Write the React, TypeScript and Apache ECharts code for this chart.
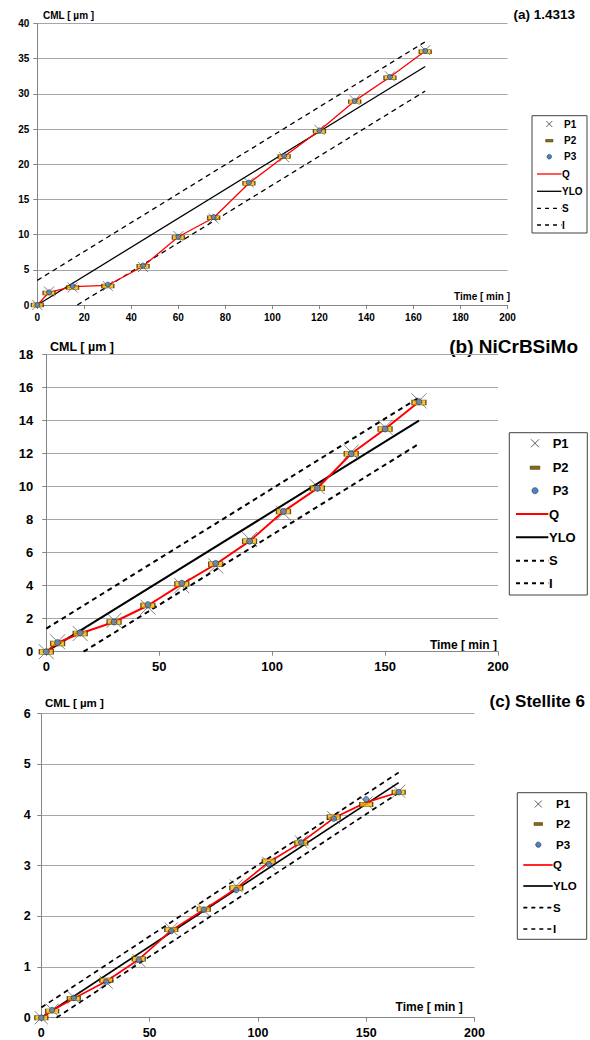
import React, { useEffect, useRef } from "react";
import * as echarts from "echarts";

// ---------------- data ----------------
const TIMES = [0, 5, 15, 30, 45, 60, 75, 90, 105, 120, 135, 150, 165];

// (a) 1.4313
const A_Q = [0, 1.8, 2.6, 2.8, 5.5, 9.7, 12.4, 17.3, 21.1, 24.8, 29.0, 32.4, 36.1];
const A_P1 = [0, 1.9, 2.5, 2.7, 5.4, 9.8, 12.3, 17.4, 21.0, 24.9, 29.1, 32.5, 36.2];
const A_P2 = [0, 1.7, 2.5, 2.7, 5.5, 9.6, 12.4, 17.3, 21.1, 24.7, 28.9, 32.3, 36.0];
const A_P3 = [0, 1.8, 2.7, 2.9, 5.6, 9.7, 12.5, 17.4, 21.2, 24.8, 29.0, 32.4, 36.1];
const A_YLO = [[0, 0], [165, 33.9]];
const A_S = [[0, 3.5], [165, 37.4]];
const A_I = [[17, 0], [165, 30.4]];
const A_YTICKS = { min: 0, max: 40, interval: 5 };
const A_XTICKS = { min: 0, max: 200, interval: 20 };

// (b) NiCrBSiMo
const B_Q = [0, 0.55, 1.1, 1.8, 2.8, 4.1, 5.3, 6.7, 8.5, 9.9, 12.0, 13.5, 15.15];
const B_P1 = [0, 0.6, 1.1, 1.9, 2.7, 4.0, 5.2, 6.8, 8.4, 10.0, 12.1, 13.6, 15.2];
const B_P2 = [0, 0.5, 1.1, 1.8, 2.8, 4.1, 5.3, 6.7, 8.5, 9.9, 12.0, 13.5, 15.1];
const B_P3 = [0, 0.55, 1.15, 1.8, 2.85, 4.15, 5.35, 6.7, 8.5, 9.9, 12.0, 13.5, 15.15];
const B_YLO = [[0, 0], [165, 14.0]];
const B_S = [[0, 1.4], [165, 15.4]];
const B_I = [[16.5, 0], [165, 12.6]];
const B_YTICKS = { min: 0, max: 18, interval: 2 };
const B_XTICKS = { min: 0, max: 200, interval: 50 };

// (c) Stellite 6
const C_Q = [0, 0.14, 0.38, 0.72, 1.15, 1.72, 2.13, 2.55, 3.07, 3.46, 3.94, 4.25, 4.45];
const C_P1 = [0, 0.15, 0.4, 0.7, 1.13, 1.75, 2.12, 2.6, 3.05, 3.47, 3.95, 4.24, 4.47];
const C_P2 = [0, 0.13, 0.38, 0.74, 1.16, 1.74, 2.14, 2.56, 3.09, 3.45, 3.96, 4.21, 4.45];
const C_P3 = [0, 0.15, 0.39, 0.71, 1.14, 1.71, 2.13, 2.52, 3.03, 3.46, 3.93, 4.31, 4.45];
const C_YLO = [[0, 0], [165, 4.64]];
const C_S = [[0, 0.2], [165, 4.84]];
const C_I = [[7, 0], [165, 4.44]];
const C_YTICKS = { min: 0, max: 6, interval: 1 };
const C_XTICKS = { min: 0, max: 200, interval: 50 };

const LEGEND_NAMES = ["P1", "P2", "P3", "Q", "YLO", "S", "I"];
const TITLES = ["(a) 1.4313", "(b) NiCrBSiMo", "(c) Stellite 6"];
const Y_NAME = "CML [ µm ]";
const X_NAME = "Time [ min ]";

// ---------------- layout ----------------
const FONT = "'Liberation Sans', Arial, Helvetica, sans-serif";

const PANELS = [
  {
    grid: { left: 37.3, top: 23.5, width: 470.2, height: 281.5 },
    y: A_YTICKS, x: A_XTICKS,
    q: A_Q, p1: A_P1, p2: A_P2, p3: A_P3, ylo: A_YLO, s: A_S, i: A_I,
    tickFont: 10, yMargin: 8, xMargin: 7,
    title: { x: 575, y: 14, size: 13.5 },
    yName: { x: 43, y: 15, size: 10 },
    xName: { x: 510, y: 296.5, size: 10 },
    markSize: { p1: 10, p2: [12, 4], p3: 5 },
    lineW: 1.3,
    legend: { x0: 532, y0: 115.7, x1: 587, y1: 233, ys: [124, 140.7, 156.7, 174, 191.3, 208.3, 225], symX: 549.3, lineX0: 537, lineX1: 561.5, textX: 564, textX2: 562, font: 10, sym: 6 },
  },
  {
    grid: { left: 46.3, top: 354.7, width: 451.7, height: 297 },
    y: B_YTICKS, x: B_XTICKS,
    q: B_Q, p1: B_P1, p2: B_P2, p3: B_P3, ylo: B_YLO, s: B_S, i: B_I,
    tickFont: 13, yMargin: 13, xMargin: 8,
    title: { x: 578, y: 346, size: 19 },
    yName: { x: 50, y: 346.5, size: 12.5 },
    xName: { x: 497, y: 645, size: 12 },
    markSize: { p1: 15, p2: [14, 5], p3: 6 },
    lineW: 2,
    legend: { x0: 509.3, y0: 432.7, x1: 587.3, y1: 595, ys: [443.3, 467.7, 490.7, 514, 537.3, 560.7, 583.3], symX: 535, lineX0: 516, lineX1: 548.3, textX: 552.7, textX2: 549, font: 13, sym: 8 },
  },
  {
    grid: { left: 41.3, top: 713.7, width: 433.2, height: 304 },
    y: C_YTICKS, x: C_XTICKS,
    q: C_Q, p1: C_P1, p2: C_P2, p3: C_P3, ylo: C_YLO, s: C_S, i: C_I,
    tickFont: 12.5, yMargin: 10.5, xMargin: 9,
    title: { x: 585, y: 701.7, size: 17 },
    yName: { x: 45, y: 703.3, size: 11.5 },
    xName: { x: 462.7, y: 1007.3, size: 12 },
    markSize: { p1: 13, p2: [13, 4.5], p3: 5.5 },
    lineW: 1.7,
    legend: { x0: 517.3, y0: 792.7, x1: 586.7, y1: 939.3, ys: [804, 824, 844.7, 865, 886, 907.7, 929], symX: 538.3, lineX0: 523.3, lineX1: 552.7, textX: 556, textX2: 553, font: 11.5, sym: 7 },
  },
];

const GRID_COLOR = "#a6a6a6";
const AXIS_COLOR = "#868686";
const P2_COLOR = "#ffb400";
const P3_COLOR = "#4f81bd";
const CROSS = "path://M0 0L10 10M10 0L0 10";

function pairs(vals: number[]) {
  return TIMES.map((t, k) => [t, vals[k]]);
}

function buildOption() {
  const grid: any[] = [];
  const xAxis: any[] = [];
  const yAxis: any[] = [];
  const series: any[] = [];
  const graphic: any[] = [];

  PANELS.forEach((p, idx) => {
    grid.push({ ...p.grid, containLabel: false });
    const labelStyle = { color: "#000", fontFamily: FONT, fontWeight: "bold", fontSize: p.tickFont };
    xAxis.push({
      type: "value", gridIndex: idx, min: p.x.min, max: p.x.max, interval: p.x.interval,
      axisLine: { show: true, lineStyle: { color: AXIS_COLOR, width: 1 } },
      axisTick: { show: true, length: 4, lineStyle: { color: AXIS_COLOR } },
      axisLabel: { ...labelStyle, margin: p.xMargin },
      splitLine: { show: false },
    });
    yAxis.push({
      type: "value", gridIndex: idx, min: p.y.min, max: p.y.max, interval: p.y.interval,
      axisLine: { show: true, lineStyle: { color: AXIS_COLOR, width: 1 } },
      axisTick: { show: true, length: 4, lineStyle: { color: AXIS_COLOR } },
      axisLabel: { ...labelStyle, margin: p.yMargin },
      splitLine: { show: true, lineStyle: { color: GRID_COLOR, width: 1 } },
    });

    const base = { xAxisIndex: idx, yAxisIndex: idx, silent: true };
    series.push({ ...base, type: "line", name: "S", data: p.s, showSymbol: false, symbol: "none", lineStyle: { color: "#000", width: p.lineW, type: [5, 4] }, z: 2 });
    series.push({ ...base, type: "line", name: "I", data: p.i, showSymbol: false, symbol: "none", lineStyle: { color: "#000", width: p.lineW, type: [5, 4] }, z: 2 });
    series.push({ ...base, type: "line", name: "YLO", data: p.ylo, showSymbol: false, symbol: "none", lineStyle: { color: "#000", width: p.lineW }, z: 2 });
    series.push({ ...base, type: "scatter", name: "P1", data: pairs(p.p1), symbol: CROSS, symbolSize: p.markSize.p1, itemStyle: { color: "rgba(0,0,0,0)", borderColor: "#3a3a3a", borderWidth: 0.8 }, z: 3 });
    series.push({ ...base, type: "line", name: "Q", data: pairs(p.q), showSymbol: false, symbol: "none", lineStyle: { color: "#ff0000", width: p.lineW }, z: 4 });
    series.push({ ...base, type: "scatter", name: "P2", data: pairs(p.p2), symbol: "rect", symbolSize: p.markSize.p2, itemStyle: { color: P2_COLOR, borderColor: "#3a3000", borderWidth: 0.8 }, z: 5 });
    series.push({ ...base, type: "scatter", name: "P3", data: pairs(p.p3), symbol: "circle", symbolSize: p.markSize.p3, itemStyle: { color: P3_COLOR, borderColor: "#1c3456", borderWidth: 0.8 }, z: 6 });

    // texts
    graphic.push({ type: "text", x: p.title.x, y: p.title.y, style: { text: TITLES[idx], fontFamily: FONT, fontWeight: "bold", fontSize: p.title.size, fill: "#000", align: "right", verticalAlign: "middle" } });
    graphic.push({ type: "text", x: p.yName.x, y: p.yName.y, style: { text: Y_NAME, fontFamily: FONT, fontWeight: "bold", fontSize: p.yName.size, fill: "#000", align: "left", verticalAlign: "middle" } });
    graphic.push({ type: "text", x: p.xName.x, y: p.xName.y, style: { text: X_NAME, fontFamily: FONT, fontWeight: "bold", fontSize: p.xName.size, fill: "#000", align: "right", verticalAlign: "middle" } });

    // legend
    const L = p.legend;
    graphic.push({ type: "rect", shape: { x: L.x0, y: L.y0, width: L.x1 - L.x0, height: L.y1 - L.y0 }, style: { fill: "#fff", stroke: "#404040", lineWidth: 1 }, z: 10 });
    LEGEND_NAMES.forEach((nm, k) => {
      const yy = L.ys[k];
      const s = L.sym;
      if (nm === "P1") {
        graphic.push({ type: "line", shape: { x1: L.symX - s / 2, y1: yy - s / 2, x2: L.symX + s / 2, y2: yy + s / 2 }, style: { stroke: "#333", lineWidth: 0.8 }, z: 11 });
        graphic.push({ type: "line", shape: { x1: L.symX + s / 2, y1: yy - s / 2, x2: L.symX - s / 2, y2: yy + s / 2 }, style: { stroke: "#333", lineWidth: 0.8 }, z: 11 });
      } else if (nm === "P2") {
        graphic.push({ type: "rect", shape: { x: L.symX - s * 0.6, y: yy - s * 0.2, width: s * 1.2, height: s * 0.4 }, style: { fill: "#8a6d10", stroke: "#3d3000", lineWidth: 0.6 }, z: 11 });
      } else if (nm === "P3") {
        graphic.push({ type: "circle", shape: { cx: L.symX, cy: yy, r: s * 0.38 }, style: { fill: P3_COLOR, stroke: "#1c3456", lineWidth: 0.6 }, z: 11 });
      } else {
        const dashed = nm === "S" || nm === "I";
        graphic.push({ type: "line", shape: { x1: L.lineX0, y1: yy, x2: L.lineX1, y2: yy }, style: { stroke: nm === "Q" ? "#ff0000" : "#000", lineWidth: p.lineW, lineDash: dashed ? [4, 4] : null }, z: 11 });
      }
      const tx = k < 3 ? L.textX : L.textX2;
      graphic.push({ type: "text", x: tx, y: yy, style: { text: nm, fontFamily: FONT, fontWeight: "bold", fontSize: L.font, fill: "#000", align: "left", verticalAlign: "middle" }, z: 11 });
    });
  });

  return { animation: false, backgroundColor: "#fff", grid, xAxis, yAxis, series, graphic };
}

export default function App() {
  const ref = useRef<HTMLDivElement>(null);
  useEffect(() => {
    if (!ref.current) return;
    const chart = echarts.init(ref.current, undefined, { renderer: "svg" });
    chart.setOption(buildOption() as any);
    return () => chart.dispose();
  }, []);
  return <div ref={ref} style={{ position: "absolute", left: 0, top: 0, width: 590, height: 1040 }} />;
}
